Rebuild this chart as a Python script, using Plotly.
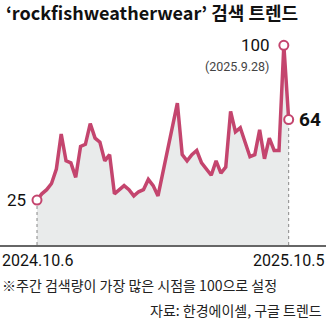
import plotly.graph_objects as go
import pandas as pd

# ---- data ----
start_date = "2024-10-06"
values = [25, 28, 30, 33, 40, 57, 44, 43, 36, 51, 52, 62, 55, 53, 44, 47,
          28, 30, 32, 30, 27, 29, 30, 35, 32, 27, 38, 50, 61, 72, 47, 44,
          47, 49, 43, 40, 37, 44, 38, 41, 68, 58, 60, 53, 46, 47, 59, 45,
          55, 49, 49, 100, 64]
dates = pd.date_range(start_date, periods=len(values), freq="7D")
start_label = "2024.10.6"
end_label = "2025.10.5"
peak_label = "100"
peak_date_label = "(2025.9.28)"
title_text = "‘rockfishweatherwear’ 검색 트렌드"
note_text = "※주간 검색량이 가장 많은 시점을 100으로 설정"
source_text = "자료: 한경에이셀, 구글 트렌드"

LINE = "#c4456e"
FILL = "#e9ebeb"
NUM = "Roboto"
KR = "Noto Sans CJK KR"

W, H = 326, 336
TOP, BOT = 30, 245  # plot area in px
week = pd.Timedelta(days=7)
px_per_week = 4.84
x_left = dates[0] - week * (37 / px_per_week)
x_right = x_left + week * (W / px_per_week)
y_lo, y_hi = 3.2, 107.4

imax = values.index(max(values))
ilast = len(values) - 1

def py(p):
    return (BOT - p) / (BOT - TOP)

def pxx(p):
    return p / W

fig = go.Figure()
fig.add_trace(go.Scatter(x=dates, y=values, mode="lines",
                         line=dict(color=LINE, width=3.5), fill="tozeroy",
                         fillcolor=FILL, hoverinfo="skip"))
fig.add_trace(go.Scatter(x=[dates[0], dates[imax], dates[ilast]],
                         y=[values[0], values[imax], values[ilast]],
                         mode="markers",
                         marker=dict(size=9, color="white",
                                     line=dict(color=LINE, width=2)),
                         hoverinfo="skip"))

for i in (0, ilast):
    fig.add_shape(type="line", xref="x", yref="y", x0=dates[i], x1=dates[i],
                  y0=y_lo, y1=values[i] - 2.5,
                  line=dict(color="#888888", width=1, dash="dot"), layer="above")

ann = []
ann.append(dict(text=f"<b>{title_text}</b>", xref="paper", yref="paper",
                x=pxx(4), y=py(12), xanchor="left", yanchor="middle",
                showarrow=False, font=dict(family=KR, size=18, color="#111")))
ann.append(dict(text=str(values[0]), xref="x", yref="y", x=dates[0], y=values[0],
                xanchor="right", yanchor="middle", xshift=-9, showarrow=False,
                font=dict(family=NUM, size=17, color="#111")))
ann.append(dict(text=peak_label, xref="x", yref="y", x=dates[imax], y=values[imax],
                xanchor="right", yanchor="middle", xshift=-12, showarrow=False,
                font=dict(family=NUM, size=17, color="#111")))
ann.append(dict(text=peak_date_label, xref="x", yref="y", x=dates[imax], y=values[imax],
                xanchor="right", yanchor="middle", xshift=-13, yshift=-21, showarrow=False,
                font=dict(family=NUM, size=12.5, color="#444")))
ann.append(dict(text=f"<b>{values[ilast]}</b>", xref="x", yref="y", x=dates[ilast], y=values[ilast],
                xanchor="left", yanchor="middle", xshift=8, showarrow=False,
                font=dict(family=NUM, size=19, color="#111")))
ann.append(dict(text=start_label, xref="paper", yref="paper", x=0, y=py(260),
                xanchor="left", yanchor="middle", showarrow=False,
                font=dict(family=NUM, size=16, color="#111")))
ann.append(dict(text=end_label, xref="paper", yref="paper", x=1, y=py(260),
                xanchor="right", yanchor="middle", showarrow=False,
                font=dict(family=NUM, size=16, color="#111")))
ann.append(dict(text=note_text, xref="paper", yref="paper", x=0, y=py(285),
                xanchor="left", yanchor="middle", showarrow=False,
                font=dict(family=KR, size=14, color="#222")))
ann.append(dict(text=source_text, xref="paper", yref="paper", x=pxx(324), y=py(310),
                xanchor="right", yanchor="middle", showarrow=False,
                font=dict(family=KR, size=14, color="#222")))

fig.update_layout(
    width=W, height=H, margin=dict(l=0, r=0, t=TOP, b=H - BOT),
    paper_bgcolor="white", plot_bgcolor="white", showlegend=False,
    annotations=ann,
    xaxis=dict(range=[x_left, x_right], showgrid=False, zeroline=False,
               showticklabels=False, ticks="", showline=True,
               linecolor="#666666", linewidth=1.5, fixedrange=True),
    yaxis=dict(range=[y_lo, y_hi], showgrid=False, zeroline=False,
               showticklabels=False, ticks="", showline=False, fixedrange=True),
)

fig.write_html("out.html", config={"displayModeBar": False})
